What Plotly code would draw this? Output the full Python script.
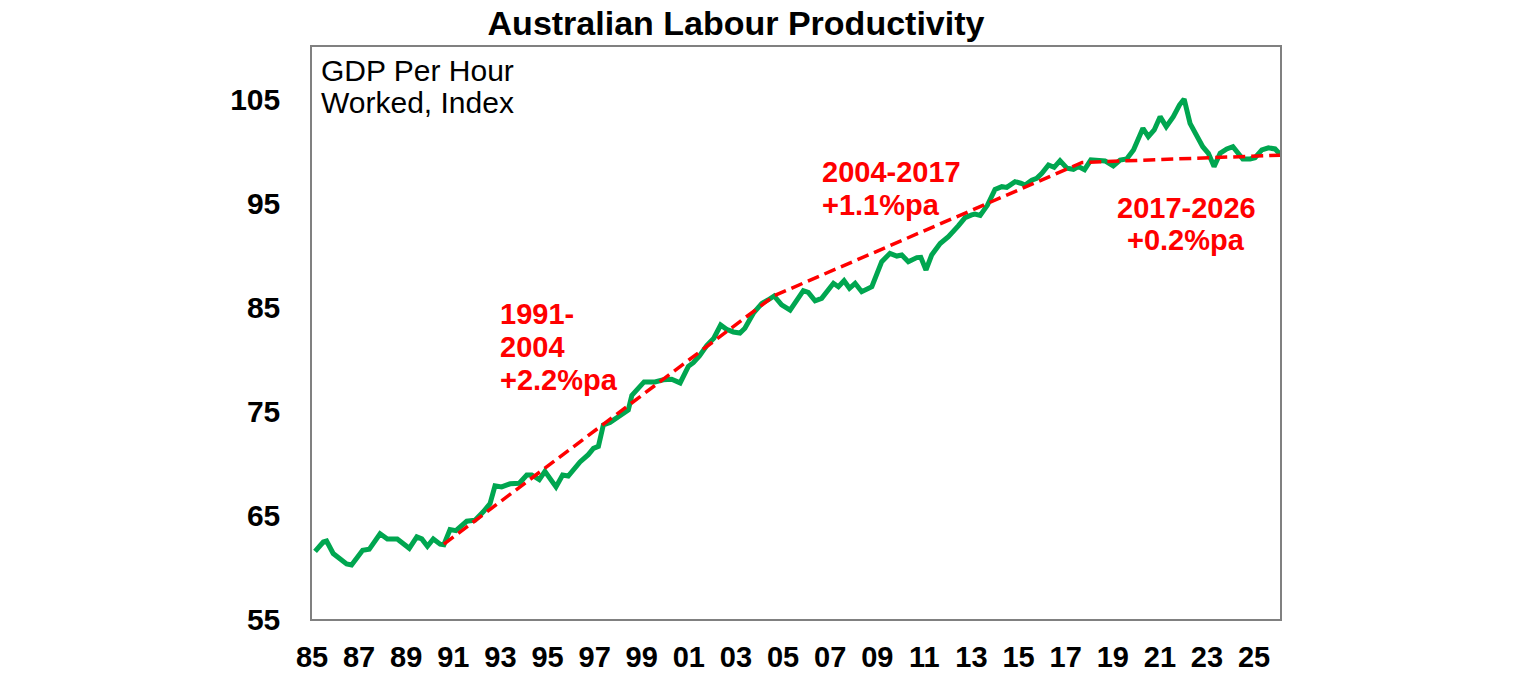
import plotly.graph_objects as go

# ---- data ----
years = [
    1985.13, 1985.48, 1985.62, 1985.90, 1986.47, 1986.68, 1987.15, 1987.43, 1987.89, 1988.20,
    1988.62, 1989.13, 1989.45, 1989.66, 1989.90, 1990.15, 1990.44, 1990.60, 1990.86, 1991.11,
    1991.57, 1991.92, 1992.27, 1992.56, 1992.77, 1993.05, 1993.41, 1993.80, 1994.12, 1994.33,
    1994.65, 1994.89, 1995.36, 1995.64, 1995.88, 1996.38, 1996.73, 1996.95, 1997.16, 1997.37,
    1997.65, 1997.94, 1998.22, 1998.43, 1998.58, 1998.79, 1999.10, 1999.56, 1999.92, 2000.27,
    2000.63, 2000.98, 2001.19, 2001.45, 2001.76, 2002.06, 2002.35, 2002.60, 2002.89, 2003.17,
    2003.38, 2003.74, 2004.10, 2004.38, 2004.62, 2004.94, 2005.30, 2005.86, 2006.07, 2006.36,
    2006.64, 2007.14, 2007.35, 2007.59, 2007.82, 2008.06, 2008.34, 2008.77, 2009.19, 2009.54,
    2009.83, 2010.04, 2010.32, 2010.68, 2010.85, 2011.07, 2011.31, 2011.67, 2012.02, 2012.44,
    2012.73, 2013.01, 2013.15, 2013.37, 2013.68, 2014.00, 2014.29, 2014.50, 2014.85, 2015.09,
    2015.28, 2015.56, 2015.77, 2015.99, 2016.27, 2016.51, 2016.76, 2017.05, 2017.33, 2017.54,
    2017.80, 2018.07, 2018.67, 2019.02, 2019.31, 2019.59, 2019.88, 2020.28, 2020.51, 2020.76,
    2021.01, 2021.27, 2021.57, 2021.83, 2022.03, 2022.28, 2022.54, 2022.82, 2023.06, 2023.30,
    2023.56, 2023.84, 2024.10, 2024.52, 2024.83, 2025.04, 2025.33, 2025.61, 2025.89, 2026.10,
]
gdp_per_hour = [
    61.5, 62.4, 62.5, 61.3, 60.3, 60.2, 61.6, 61.7, 63.2, 62.7,
    62.7, 61.8, 62.9, 62.7, 62.0, 62.7, 62.2, 62.15, 63.6, 63.5,
    64.4, 64.5, 65.3, 66.1, 67.8, 67.7, 68.0, 68.05, 68.85, 68.85,
    68.4, 69.2, 67.7, 68.85, 68.75, 70.1, 70.8, 71.4, 71.6, 73.65,
    73.9, 74.3, 74.8, 75.1, 76.5, 77.0, 77.8, 77.8, 78.0, 78.05,
    77.7, 79.3, 79.65, 80.3, 81.3, 82.0, 83.27, 82.85, 82.6, 82.5,
    82.95, 84.4, 85.35, 85.7, 86.06, 85.2, 84.7, 86.57, 86.4, 85.6,
    85.83, 87.28, 86.95, 87.53, 86.8, 87.28, 86.47, 86.95, 89.36, 90.16,
    89.9, 90.0, 89.36, 89.75, 89.78, 88.56, 90.0, 91.1, 91.76, 92.8,
    93.6, 93.85, 93.94, 93.8, 94.8, 96.3, 96.57, 96.5, 97.05, 96.9,
    96.73, 97.2, 97.37, 97.85, 98.65, 98.43, 99.07, 98.34, 98.24, 98.5,
    98.2, 99.15, 99.04, 98.56, 99.13, 99.23, 100.1, 102.18, 101.38, 102.02,
    103.3, 102.34, 103.3, 104.42, 105.0, 102.66, 101.54, 100.41, 99.78, 98.5,
    99.78, 100.2, 100.41, 99.23, 99.23, 99.36, 100.1, 100.3, 100.2, 99.7,
]
trend_years = [1990.60, 2004.64, 2017.70, 2026.10]
trend_values = [62.2, 86.1, 98.9, 99.6]

tick_years = list(range(1985, 2026, 2))
tick_labels = ["85", "87", "89", "91", "93", "95", "97", "99", "01", "03", "05",
               "07", "09", "11", "13", "15", "17", "19", "21", "23", "25"]
y_ticks = [55, 65, 75, 85, 95, 105]

FONT = "Arial, Liberation Sans, sans-serif"
GREEN = "#00A650"
RED = "#FF0000"

fig = go.Figure()
fig.add_trace(go.Scatter(x=years, y=gdp_per_hour, mode="lines",
                         line=dict(color=GREEN, width=5), showlegend=False,
                         hoverinfo="skip"))
fig.add_trace(go.Scatter(x=trend_years, y=trend_values, mode="lines",
                         line=dict(color=RED, width=3.5, dash="12px,6px"),
                         showlegend=False, hoverinfo="skip"))

def label(text, x, y, color, size, xanchor="left", bold=True):
    t = f"<b>{text}</b>" if bold else text
    fig.add_annotation(text=t, x=x, y=y, xref="paper", yref="paper",
                       xanchor=xanchor, yanchor="middle", showarrow=False,
                       font=dict(family=FONT, size=size, color=color))

W, H = 1536, 680
L, R, T, B = 312, 1280, 47, 619

def px(xp):
    return (xp - L) / (R - L)

def py(yp):
    return (B - yp) / (B - T)

label("GDP Per Hour", px(319), py(70), "black", 30, bold=False)
label("Worked, Index", px(319), py(102), "black", 30, bold=False)
label("1991-", px(498), py(314), RED, 29)
label("2004", px(498), py(347), RED, 29)
label("+2.2%pa", px(498), py(380), RED, 29)
label("2004-2017", px(820), py(172), RED, 29)
label("+1.1%pa", px(820), py(205), RED, 29)
label("2017-2026", px(1186), py(208), RED, 29, xanchor="center")
label("+0.2%pa", px(1186), py(240), RED, 29, xanchor="center")

fig.update_layout(
    width=W, height=H,
    margin=dict(l=L, r=W - R, t=T, b=H - B, autoexpand=False),
    paper_bgcolor="white", plot_bgcolor="white",
    title=dict(text="<b>Australian Labour Productivity</b>", x=736 / W, xanchor="center",
               y=1 - 23 / H, yanchor="middle",
               font=dict(family=FONT, size=34, color="black")),
    font=dict(family=FONT, color="black"),
)
fig.update_xaxes(range=[1985, 2026.1], tickvals=tick_years, ticktext=tick_labels,
                 showgrid=False, zeroline=False, showline=True, mirror=True,
                 linecolor="#808080", linewidth=1.5, ticks="", automargin=False,
                 tickfont=dict(family=FONT, size=29, color="black", weight="bold"),
                 ticklabelstandoff=11)
fig.update_yaxes(range=[55, 110], tickvals=y_ticks,
                 showgrid=False, zeroline=False, showline=True, mirror=True,
                 linecolor="#808080", linewidth=1.5, ticks="", automargin=False,
                 tickfont=dict(family=FONT, size=30, color="black", weight="bold"),
                 ticklabelstandoff=24)

fig.write_html("out.html")
